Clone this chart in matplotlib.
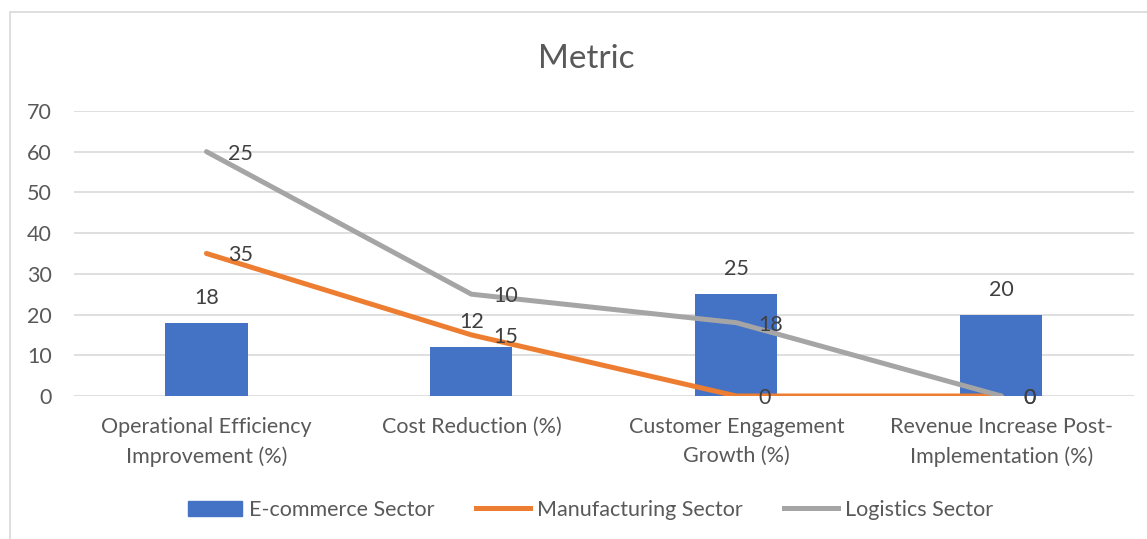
import numpy as np
import matplotlib.pyplot as plt
from matplotlib.patches import Rectangle, Patch
from matplotlib.lines import Line2D

categories = ['Operational Efficiency\nImprovement (%)', 'Cost Reduction (%)',
              'Customer Engagement\nGrowth (%)', 'Revenue Increase Post-\nImplementation (%)']
ecommerce = [18, 12, 25, 20]
manufacturing = [35, 15, 0, 0]
logistics = [25, 10, 18, 0]

blue = '#4472C4'
orange = '#ED7D31'
gray = '#A5A5A5'
txt = '#595959'
fs = 15.5

plt.rcParams['font.family'] = ['Lato', 'DejaVu Sans']

fig = plt.figure(figsize=(11.47, 5.39), dpi=100)
fig.patches.append(Rectangle((10 / 1147, -0.05), 1.2, 1 - 12 / 539 + 0.05,
                             transform=fig.transFigure, fill=False,
                             edgecolor='#D9D9D9', linewidth=1.2))
ax = fig.add_axes([0.0645, 0.2653, 0.924, 0.5289])

x = np.arange(len(categories))
# stacked line chart: logistics sits on top of manufacturing
manu_line = np.array(manufacturing)
logi_line = manu_line + np.array(logistics)

ax.bar(x, ecommerce, width=0.31, color=blue, zorder=2)
ax.plot(x, manu_line, color=orange, lw=3.6, solid_capstyle='round', zorder=3)
ax.plot(x, logi_line, color=gray, lw=3.6, solid_capstyle='round', zorder=3)

for xi, v in zip(x, ecommerce):
    ax.annotate(str(v), (xi, v), xytext=(0, 15), textcoords='offset pixels',
                ha='center', va='bottom', fontsize=fs, color='#404040')
for xi, y, v in zip(x, manu_line, manufacturing):
    ax.annotate(str(v), (xi, y), xytext=(22, -2), textcoords='offset pixels',
                ha='left', va='center', fontsize=fs, color='#404040')
for xi, y, v in zip(x, logi_line, logistics):
    ax.annotate(str(v), (xi, y), xytext=(22, -2), textcoords='offset pixels',
                ha='left', va='center', fontsize=fs, color='#404040')

ax.set_xlim(-0.5, len(categories) - 0.5)
ax.set_ylim(0, 70)
ax.set_yticks(range(0, 71, 10))
ax.set_xticks(x)
ax.set_xticklabels(categories, fontsize=fs, color=txt, linespacing=1.55)
ax.tick_params(axis='y', length=0, pad=16, labelsize=fs, labelcolor=txt)
ax.tick_params(axis='x', length=0, pad=15)
ax.grid(axis='y', color='#D9D9D9', lw=1.2, zorder=0)
ax.set_axisbelow(True)
for s in ax.spines.values():
    s.set_visible(False)

fig.text(0.511, 0.89, 'Metric', ha='center', va='center', fontsize=24, color=txt)

handles = [Patch(color=blue), Line2D([], [], color=orange, lw=3.6),
           Line2D([], [], color=gray, lw=3.6)]
fig.legend(handles, ['E-commerce Sector', 'Manufacturing Sector', 'Logistics Sector'],
           loc='center', bbox_to_anchor=(0.515, 0.054), ncol=3, frameon=False,
           fontsize=fs, labelcolor=txt, handlelength=2.5, handletextpad=0.35,
           columnspacing=1.9)

fig.savefig('out.png', dpi=100)
